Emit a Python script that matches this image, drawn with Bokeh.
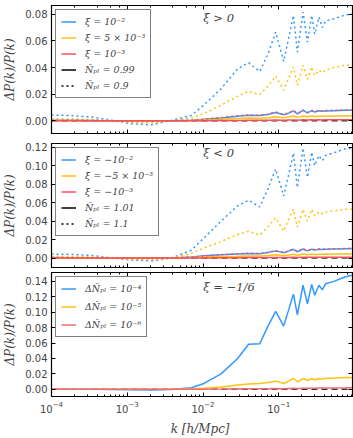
from bokeh.plotting import figure
from bokeh.layouts import column
from bokeh.models import (FixedTicker, PrintfTickFormatter, LinearAxis, LogAxis,
                          Legend, LegendItem, Label, Range1d)
from bokeh.embed import file_html
from bokeh.resources import INLINE

# ---------------- data ----------------
k = [1.0e-4, 1.8e-4, 3.4e-4, 6.2e-4, 1.13e-3, 2.1e-3, 3.8e-3, 7.0e-3, 0.0103, 0.0173,
     0.0286, 0.040, 0.056, 0.072, 0.091, 0.116, 0.135, 0.156, 0.176, 0.209,
     0.239, 0.272, 0.298, 0.339, 0.376, 0.415, 0.535, 0.76, 0.94]

# panel 1 : xi > 0
p1_blue_dot = [0.0043, 0.0040, 0.0028, 0.0005, -0.0022, -0.0030, 0.0003, 0.0040, 0.0120, 0.0240,
               0.0390, 0.0436, 0.0370, 0.0500, 0.0665, 0.0446, 0.0620, 0.0790, 0.0516, 0.0815,
               0.0590, 0.0790, 0.0650, 0.0778, 0.0700, 0.0750, 0.0765, 0.0795, 0.0800]
p1_yel_dot = [0.0015, 0.0014, 0.0010, 0.0000, -0.0012, -0.0015, 0.0000, 0.0020, 0.0055, 0.0117,
              0.0185, 0.0222, 0.0197, 0.0260, 0.0337, 0.0230, 0.0320, 0.0404, 0.0267, 0.0417,
              0.0312, 0.0404, 0.0340, 0.0380, 0.0360, 0.0380, 0.0400, 0.0417, 0.0420]
p1_red_dot = [0.0004, 0.0004, 0.0003, 0.0000, -0.0002, -0.0003, 0.0000, 0.0004, 0.0012, 0.0024,
              0.0038, 0.0044, 0.0041, 0.0050, 0.0066, 0.0047, 0.0060, 0.0078, 0.0054, 0.0081,
              0.0062, 0.0079, 0.0068, 0.0078, 0.0073, 0.0077, 0.0079, 0.0082, 0.0082]
p1_blue = [0.0004, 0.0004, 0.0003, 0.0000, -0.0002, -0.0003, 0.0000, 0.0005, 0.0012, 0.0022,
           0.0035, 0.0042, 0.0040, 0.0048, 0.0062, 0.0045, 0.0058, 0.0075, 0.0052, 0.0078,
           0.0060, 0.0076, 0.0066, 0.0076, 0.0071, 0.0074, 0.0076, 0.0079, 0.0080]
p1_yel = [0.0002, 0.0002, 0.0001, 0.0000, -0.0001, -0.0001, 0.0000, 0.0002, 0.0006, 0.0011,
          0.0017, 0.0021, 0.0020, 0.0024, 0.0030, 0.0023, 0.0029, 0.0036, 0.0026, 0.0037,
          0.0030, 0.0036, 0.0032, 0.0035, 0.0034, 0.0035, 0.0036, 0.0037, 0.0038]
p1_red = [0.0, 0.0, 0.0, 0.0, 0.0, 0.0, 0.0, 0.0, 0.0001, 0.0002,
          0.0003, 0.0004, 0.0004, 0.0005, 0.0006, 0.0005, 0.0006, 0.0007, 0.0005, 0.0008,
          0.0006, 0.0008, 0.0007, 0.0008, 0.0007, 0.0008, 0.0008, 0.0008, 0.0008]

# panel 2 : xi < 0
p2_blue_dot = [0.0044, 0.0040, 0.0028, 0.0003, -0.0022, -0.0030, 0.0000, 0.0085, 0.0218, 0.0400,
               0.0564, 0.0626, 0.0553, 0.0750, 0.0964, 0.0673, 0.0900, 0.1135, 0.0764, 0.1190,
               0.0873, 0.1146, 0.1000, 0.1110, 0.1055, 0.1110, 0.1140, 0.1183, 0.1190]
p2_yel_dot = [0.0020, 0.0018, 0.0012, 0.0000, -0.0012, -0.0016, 0.0000, 0.0050, 0.0109, 0.0180,
              0.0255, 0.0290, 0.0248, 0.0340, 0.0436, 0.0290, 0.0420, 0.0528, 0.0335, 0.0528,
              0.0400, 0.0528, 0.0455, 0.0500, 0.0480, 0.0500, 0.0510, 0.0528, 0.0530]
p2_red_dot = [0.0005, 0.0004, 0.0003, 0.0000, -0.0002, -0.0003, 0.0000, 0.0010, 0.0023, 0.0036,
              0.0047, 0.0052, 0.0049, 0.0063, 0.0080, 0.0060, 0.0078, 0.0097, 0.0070, 0.0100,
              0.0080, 0.0099, 0.0090, 0.0098, 0.0094, 0.0098, 0.0100, 0.0104, 0.0105]
p2_blue = [0.0005, 0.0004, 0.0003, 0.0000, -0.0002, -0.0003, 0.0000, 0.0012, 0.0025, 0.0035,
           0.0045, 0.0050, 0.0048, 0.0060, 0.0078, 0.0058, 0.0075, 0.0095, 0.0068, 0.0098,
           0.0078, 0.0097, 0.0088, 0.0096, 0.0092, 0.0096, 0.0099, 0.0102, 0.0103]
p2_yel = [0.0002, 0.0002, 0.0001, 0.0000, -0.0001, -0.0001, 0.0000, 0.0005, 0.0011, 0.0016,
          0.0020, 0.0023, 0.0022, 0.0028, 0.0036, 0.0027, 0.0034, 0.0042, 0.0031, 0.0043,
          0.0036, 0.0043, 0.0039, 0.0042, 0.0041, 0.0042, 0.0043, 0.0044, 0.0045]
p2_red = [0.0, 0.0, 0.0, 0.0, 0.0, 0.0, 0.0, 0.0001, 0.0002, 0.0003,
          0.0004, 0.0005, 0.0005, 0.0006, 0.0007, 0.0006, 0.0007, 0.0008, 0.0007, 0.0009,
          0.0008, 0.0009, 0.0008, 0.0009, 0.0009, 0.0009, 0.0009, 0.0010, 0.0010]

# panel 3 : xi = -1/6
p3_blue = [0.0, 0.0, 0.0, -0.0002, -0.0006, -0.0008, -0.0003, 0.0020, 0.0076, 0.0200,
           0.0400, 0.0585, 0.0590, 0.0820, 0.1010, 0.0820, 0.1030, 0.1235, 0.0967, 0.1350,
           0.1110, 0.1360, 0.1220, 0.1350, 0.1290, 0.1370, 0.1400, 0.1460, 0.1480]
p3_yel = [0.0, 0.0, 0.0, 0.0, 0.0, 0.0, 0.0002, 0.0008, 0.0013, 0.0030,
          0.0055, 0.0068, 0.0076, 0.0090, 0.0106, 0.0076, 0.0110, 0.0140, 0.0098, 0.0140,
          0.0115, 0.0140, 0.0125, 0.0138, 0.0133, 0.0142, 0.0146, 0.0153, 0.0155]
p3_red = [0.0, 0.0, 0.0, 0.0, 0.0, 0.0, 0.0, 0.0001, 0.0002, 0.0003,
          0.0005, 0.0007, 0.0008, 0.0009, 0.0011, 0.0009, 0.0012, 0.0014, 0.0011, 0.0015,
          0.0013, 0.0015, 0.0014, 0.0016, 0.0016, 0.0017, 0.0018, 0.0019, 0.0020]

zero_k = [1.0e-4, 0.94]
zero_v = [0.0, 0.0]

y_ticks_1 = [0.00, 0.02, 0.04, 0.06, 0.08]
y_ticks_2 = [0.00, 0.02, 0.04, 0.06, 0.08, 0.10, 0.12]
y_ticks_3 = [0.00, 0.02, 0.04, 0.06, 0.08, 0.10, 0.12, 0.14]

labels_1 = ["ξ = 10⁻²", "ξ = 5 × 10⁻³", "ξ = 10⁻³", "Ñₚₗ = 0.99", "Ñₚₗ = 0.9"]
labels_2 = ["ξ = −10⁻²", "ξ = −5 × 10⁻³", "ξ = −10⁻³", "Ñₚₗ = 1.01", "Ñₚₗ = 1.1"]
labels_3 = ["ΔÑₚₗ = 10⁻⁴", "ΔÑₚₗ = 10⁻⁵", "ΔÑₚₗ = 10⁻⁶"]
titles = ["ξ > 0", "ξ < 0", "ξ = −1/6"]

# ---------------- styling ----------------
BLUE = "#3399ff"
YEL = "#ffc20e"
RED = "#ff4d5a"
DOT = "2 3"
LW = 1.5
SERIF = "DejaVu Serif"
SANS = "DejaVu Sans"
X0, X1 = 1.0e-4, 0.94


def hide_labels(ax):
    ax.major_label_text_font_size = "1px"
    ax.major_label_text_alpha = 0.0
    ax.major_label_standoff = 0


def base_fig(height, ymin, ymax, yticks, top, bottom, show_x):
    p = figure(width=353, height=height, x_axis_type="log",
               x_range=Range1d(X0, X1), y_range=Range1d(ymin, ymax),
               output_backend="svg", toolbar_location=None,
               min_border_left=50, min_border_right=1,
               min_border_top=top, min_border_bottom=bottom)
    p.grid.visible = False
    p.outline_line_color = "black"
    p.outline_line_width = 1.2
    p.background_fill_color = "white"
    p.border_fill_color = "white"

    p.yaxis.ticker = FixedTicker(ticks=yticks)
    p.yaxis.formatter = PrintfTickFormatter(format="%.2f")
    p.yaxis.major_tick_in = 4
    p.yaxis.major_tick_out = 0
    p.yaxis.minor_tick_in = 0
    p.yaxis.minor_tick_out = 0
    p.yaxis.major_label_text_font = SANS
    p.yaxis.major_label_text_font_size = "10px"
    p.yaxis.major_label_standoff = 4
    p.yaxis.axis_label = "ΔP(k)/P(k)"
    p.yaxis.axis_label_text_font = SERIF
    p.yaxis.axis_label_text_font_style = "italic"
    p.yaxis.axis_label_text_font_size = "12px"
    p.yaxis.axis_label_standoff = 5

    p.xaxis.major_tick_in = 4
    p.xaxis.major_tick_out = 0
    p.xaxis.minor_tick_in = 2
    p.xaxis.minor_tick_out = 0
    if show_x:
        p.xaxis.major_label_text_font = SANS
        p.xaxis.major_label_text_font_size = "10px"
        p.xaxis.major_label_standoff = 4
        p.xaxis.axis_label = "k  [h/Mpc]"
        p.xaxis.axis_label_text_font = SERIF
        p.xaxis.axis_label_text_font_style = "italic"
        p.xaxis.axis_label_text_font_size = "12px"
        p.xaxis.axis_label_standoff = 6
    else:
        hide_labels(p.xaxis[0])

    ra = LinearAxis(ticker=FixedTicker(ticks=yticks), major_tick_in=4, major_tick_out=0,
                    minor_tick_in=0, minor_tick_out=0)
    hide_labels(ra)
    p.add_layout(ra, "right")
    ta = LogAxis(major_tick_in=4, major_tick_out=0, minor_tick_in=2, minor_tick_out=0)
    hide_labels(ta)
    p.add_layout(ta, "above")

    p.line(zero_k, zero_v, color="#333333", line_width=LW, line_dash="6 4")
    return p


def style_legend(p, items, spacing):
    leg = Legend(items=items, location="top_left")
    leg.margin = 4
    leg.padding = 5
    leg.spacing = spacing
    leg.label_height = 13
    leg.glyph_height = 13
    leg.glyph_width = 15
    leg.label_standoff = 9
    leg.label_text_font = SERIF
    leg.label_text_font_size = "9.5px"
    leg.label_text_font_style = "italic"
    leg.border_line_color = "black"
    leg.border_line_width = 1
    leg.background_fill_alpha = 1.0
    p.add_layout(leg)


def add_title(p, text, ypos):
    p.add_layout(Label(x=0.0101, y=ypos, text=text, text_font=SERIF,
                       text_font_style="italic", text_font_size="11.5px",
                       text_baseline="middle", text_align="left"))


# ---------------- panel 1 ----------------
p1 = base_fig(138, -0.0095, 0.0865, y_ticks_1, 5, 5, False)
p1.line(k, p1_blue_dot, color=BLUE, line_width=LW, line_dash=DOT)
p1.line(k, p1_yel_dot, color=YEL, line_width=LW, line_dash=DOT)
rb = p1.line(k, p1_blue, color=BLUE, line_width=LW)
ry = p1.line(k, p1_yel, color=YEL, line_width=LW)
p1.line(k, p1_red_dot, color=RED, line_width=LW, line_dash=DOT)
rr = p1.line(k, p1_red, color=RED, line_width=LW)
ks = p1.line([1e-5], [1.0], color="black", line_width=LW)
kd = p1.line([1e-5], [1.0], color="black", line_width=LW, line_dash=DOT)
style_legend(p1, [LegendItem(label=labels_1[0], renderers=[rb]),
                  LegendItem(label=labels_1[1], renderers=[ry]),
                  LegendItem(label=labels_1[2], renderers=[rr]),
                  LegendItem(label=labels_1[3], renderers=[ks]),
                  LegendItem(label=labels_1[4], renderers=[kd])], 3)
add_title(p1, titles[0], 0.0771)

# ---------------- panel 2 ----------------
p2 = base_fig(131, -0.0102, 0.124, y_ticks_2, 5, 2, False)
p2.line(k, p2_blue_dot, color=BLUE, line_width=LW, line_dash=DOT)
p2.line(k, p2_yel_dot, color=YEL, line_width=LW, line_dash=DOT)
rb2 = p2.line(k, p2_blue, color=BLUE, line_width=LW)
ry2 = p2.line(k, p2_yel, color=YEL, line_width=LW)
p2.line(k, p2_red_dot, color=RED, line_width=LW, line_dash=DOT)
rr2 = p2.line(k, p2_red, color=RED, line_width=LW)
ks2 = p2.line([1e-5], [1.0], color="black", line_width=LW)
kd2 = p2.line([1e-5], [1.0], color="black", line_width=LW, line_dash=DOT)
style_legend(p2, [LegendItem(label=labels_2[0], renderers=[rb2]),
                  LegendItem(label=labels_2[1], renderers=[ry2]),
                  LegendItem(label=labels_2[2], renderers=[rr2]),
                  LegendItem(label=labels_2[3], renderers=[ks2]),
                  LegendItem(label=labels_2[4], renderers=[kd2])], 3)
add_title(p2, titles[1], 0.1140)

# ---------------- panel 3 ----------------
p3 = base_fig(169, -0.0093, 0.1515, y_ticks_3, 3, 40, True)
rb3 = p3.line(k, p3_blue, color=BLUE, line_width=LW)
ry3 = p3.line(k, p3_yel, color=YEL, line_width=LW)
rr3 = p3.line(k, p3_red, color="#f26b78", line_width=LW)
style_legend(p3, [LegendItem(label=labels_3[0], renderers=[rb3]),
                  LegendItem(label=labels_3[1], renderers=[ry3]),
                  LegendItem(label=labels_3[2], renderers=[rr3])], 5)
add_title(p3, titles[2], 0.1324)

layout = column(p1, p2, p3, spacing=0)
open("out.html", "w").write(file_html(layout, INLINE))
